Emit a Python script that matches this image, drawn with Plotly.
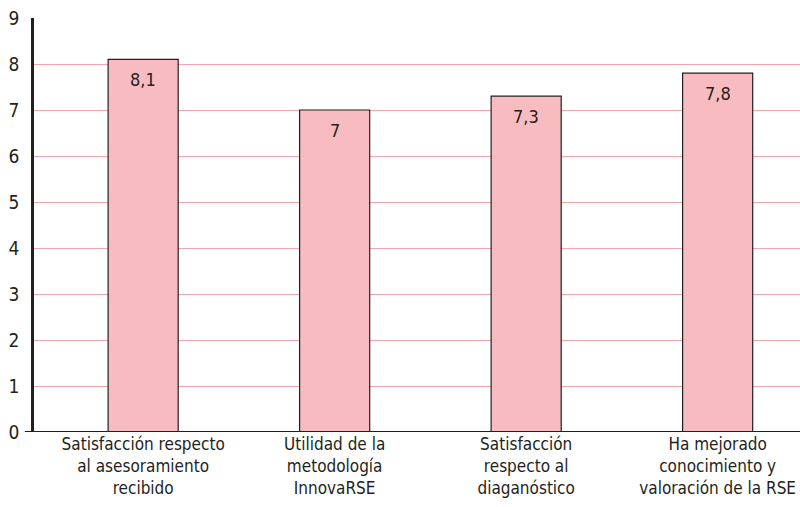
import plotly.graph_objects as go

categories = ['Satisfacción respecto<br>al asesoramiento<br>recibido',
              'Utilidad de la<br>metodología<br>InnovaRSE',
              'Satisfacción<br>respecto al<br>diaganóstico',
              'Ha mejorado<br>conocimiento y<br>valoración de la RSE']
values = [8.1, 7.0, 7.3, 7.8]
labels = ['8,1', '7', '7,3', '7,8']

FONT = 'DejaVu Sans Condensed, Roboto, sans-serif'
INK = '#231f20'

fig = go.Figure()
fig.add_trace(go.Bar(x=categories, y=values, width=0.366,
                     marker=dict(color='#f8bcc0', line=dict(color=INK, width=1.2)),
                     hoverinfo='skip'))

for c, v, t in zip(categories, values, labels):
    fig.add_annotation(x=c, y=v, text=t, showarrow=False, yshift=-20,
                       font=dict(size=18, color=INK, family=FONT))

# base line extends a little left of the y axis
fig.add_shape(type='line', xref='paper', yref='y', x0=-0.012, x1=1, y0=0, y1=0,
              line=dict(color=INK, width=2))

fig.update_layout(
    width=800, height=507,
    margin=dict(l=34, r=0, t=18, b=75),
    plot_bgcolor='white', paper_bgcolor='white',
    showlegend=False,
    font=dict(family=FONT, color=INK, size=16),
    xaxis=dict(range=[-0.57, 3.43], showgrid=False, showline=False, automargin=False,
               tickfont=dict(size=17, color=INK), ticks=''),
    yaxis=dict(range=[0, 9], dtick=1, showgrid=True, gridcolor='#f7a5ad', gridwidth=1,
               showline=True, linecolor=INK, linewidth=2.5, zeroline=False, automargin=False,
               tickfont=dict(size=19, color=INK), ticks='', ticklabelstandoff=8),
)

# drop the default page margin so the figure sits at the window corner
fig.write_html('out.html', config={'displayModeBar': False},
               post_script="document.body.style.margin='0';")
